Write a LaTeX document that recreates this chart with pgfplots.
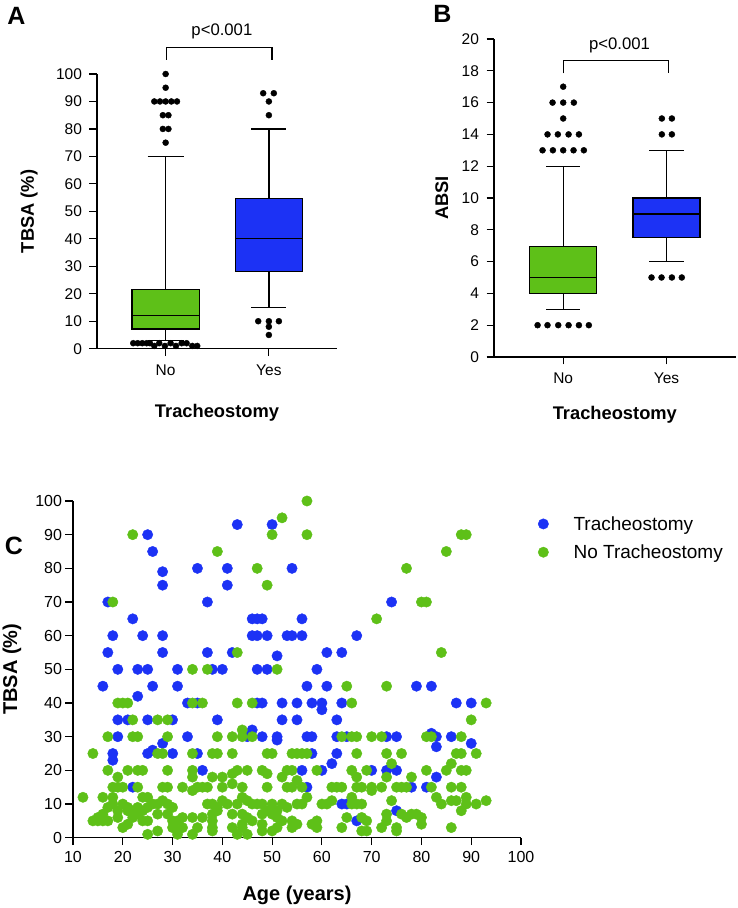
\documentclass[border=0pt]{standalone}
\usepackage{fontspec}
\setmainfont{Liberation Sans}
\usepackage{pgfplots}
\pgfplotsset{compat=1.18}
\definecolor{tgreen}{RGB}{94,192,24}
\definecolor{tblue}{RGB}{28,50,245}
\pgfplotsset{
  myaxis/.style={
    scale only axis,
    axis lines=left,
    axis line style={-, line width=1.3pt},
    tick style={line width=1.2pt, black},
    tick align=outside,
    major tick length=7.5pt,
    /pgf/number format/assume math mode=true,
    clip=false,
  },
  wh/.style={black, line width=1.3pt},
  bx/.style={draw=black, line width=1.3pt},
  outl/.style={only marks, mark=*, mark size=3pt, black},
}
\begin{document}
\begin{tikzpicture}
\useasboundingbox (0,0) rectangle (738pt,908pt);
% ---------------- Panel A
\begin{axis}[myaxis,
  at={(97pt,559.3pt)}, anchor=south west,
  width=240pt, height=274.7pt,
  xmin=0.335, xmax=2.66, ymin=0, ymax=100,
  xtick={1,2}, xticklabels={No,Yes},
  ytick={0,10,...,100},
  tick label style={font=\fontsize{15.5}{18}\selectfont},
  xticklabel style={yshift=-5pt},
  yticklabel style={xshift=-4pt},
  xlabel={Tracheostomy}, ylabel={TBSA (\%)},
  label style={font=\fontsize{18.3}{21}\selectfont\bfseries},
  xlabel style={at={(axis description cs:0.5,-0.234)}, anchor=center},
  ylabel style={at={(axis description cs:-0.283,0.5)}, anchor=center},
]
% whiskers
\addplot[wh] coordinates {(1,21.6) (1,70)};
\addplot[wh] coordinates {(0.825,70) (1.175,70)};
\addplot[wh] coordinates {(1,7.2) (1,2.9)};
\addplot[wh] coordinates {(0.825,2.9) (1.175,2.9)};
\addplot[wh] coordinates {(2,54.6) (2,80)};
\addplot[wh] coordinates {(1.83,80) (2.17,80)};
\addplot[wh] coordinates {(2,28) (2,15)};
\addplot[wh] coordinates {(1.83,15) (2.17,15)};
% boxes
\addplot[bx, fill=tgreen] coordinates {(0.675,7.2) (1.325,7.2) (1.325,21.6) (0.675,21.6) (0.675,7.2)} -- cycle;
\addplot[wh] coordinates {(0.675,12) (1.325,12)};
\addplot[bx, fill=tblue] coordinates {(1.675,28) (2.325,28) (2.325,54.6) (1.675,54.6) (1.675,28)} -- cycle;
\addplot[wh] coordinates {(1.675,40) (2.325,40)};
% outliers
\addplot[outl] coordinates {(1,100) (1,95) (0.89,90) (0.945,90) (1,90) (1.055,90) (1.11,90) (0.973,85) (1.027,85) (0.973,80) (1.027,80) (1,75)
 (0.686,2) (0.729,2) (0.774,2) (0.816,2) (0.848,2) (0.938,2) (1.048,2) (1.155,2) (1.203,2)
 (0.890,1) (0.993,1) (1.100,1) (1.258,1) (1.306,1)};
\addplot[outl] coordinates {(1.945,93) (2.048,93) (2,90) (2,85) (1.897,10) (2,10) (2.097,10) (2,8) (2,5)};
\draw[line width=1.2pt] (axis cs:1.005,105.1) -- (axis cs:1.005,109.6) -- (axis cs:2.03,109.6) -- (axis cs:2.03,105.1);
\node[font=\fontsize{16.7}{19}\selectfont] at (axis cs:1.545,115.4) {p<0.001};
\end{axis}
% ---------------- Panel B
\begin{axis}[myaxis,
  at={(494pt,551pt)}, anchor=south west,
  width=241.7pt, height=318pt,
  xmin=0.33, xmax=2.67, ymin=0, ymax=20,
  xtick={1,2}, xticklabels={No,Yes},
  ytick={0,2,...,20},
  tick label style={font=\fontsize{15.5}{18}\selectfont},
  xticklabel style={yshift=-5pt},
  yticklabel style={xshift=-4pt},
  xlabel={Tracheostomy}, ylabel={ABSI},
  label style={font=\fontsize{18.3}{21}\selectfont\bfseries},
  xlabel style={at={(axis description cs:0.5,-0.182)}, anchor=center},
  ylabel style={at={(axis description cs:-0.216,0.5)}, anchor=center},
]
\addplot[wh] coordinates {(1,6.95) (1,12)};
\addplot[wh] coordinates {(0.835,12) (1.165,12)};
\addplot[wh] coordinates {(1,4) (1,3)};
\addplot[wh] coordinates {(0.835,3) (1.165,3)};
\addplot[wh] coordinates {(2,10) (2,13)};
\addplot[wh] coordinates {(1.835,13) (2.165,13)};
\addplot[wh] coordinates {(2,7.5) (2,6)};
\addplot[wh] coordinates {(1.835,6) (2.165,6)};
\addplot[bx, fill=tgreen] coordinates {(0.675,4) (1.325,4) (1.325,6.95) (0.675,6.95) (0.675,4)} -- cycle;
\addplot[wh] coordinates {(0.675,5) (1.325,5)};
\addplot[bx, fill=tblue] coordinates {(1.675,7.5) (2.325,7.5) (2.325,10) (1.675,10) (1.675,7.5)} -- cycle;
\addplot[wh] coordinates {(1.675,9) (2.325,9)};
\addplot[outl] coordinates {(1,17) (0.897,16) (1,16) (1.103,16) (1,15) (0.848,14) (0.948,14) (1.052,14) (1.152,14) (0.8,13) (0.9,13) (1,13) (1.1,13) (1.2,13) (0.752,2) (0.848,2) (0.952,2) (1.052,2) (1.152,2) (1.248,2)};
\addplot[outl] coordinates {(1.955,15) (2.052,15) (1.955,14) (2.052,14) (1.855,5) (1.952,5) (2.052,5) (2.148,5)};
\draw[line width=1.2pt] (axis cs:1,17.84) -- (axis cs:1,18.64) -- (axis cs:2.02,18.64) -- (axis cs:2.02,17.84);
\node[font=\fontsize{16.7}{19}\selectfont] at (axis cs:1.545,19.6) {p<0.001};
\end{axis}
% ---------------- Panel C
\begin{axis}[myaxis,
  at={(73pt,70.3pt)}, anchor=south west,
  width=448pt, height=336.7pt,
  xmin=10, xmax=100, ymin=0, ymax=100,
  xtick={10,20,...,100}, ytick={0,10,...,100},
  tick label style={font=\fontsize{16}{19}\selectfont},
  xticklabel style={yshift=-3pt},
  xlabel={Age (years)}, ylabel={TBSA (\%)},
  label style={font=\fontsize{20}{24}\selectfont\bfseries},
  xlabel style={at={(axis description cs:0.5,-0.17)}, anchor=center},
  ylabel style={at={(axis description cs:-0.136,0.5)}, anchor=center},
  legend style={draw=none, fill=none, at={(axis description cs:1.02,0.967)}, anchor=north west,
    font=\fontsize{19}{22}\selectfont, row sep=9pt},
  legend cell align=left,
  legend image code/.code={\draw[#1] plot coordinates {(10pt,0pt)}; \path (0pt,0pt) (38pt,0pt);},
]
\addplot[only marks, mark=*, mark size=5.2pt, color=tblue] coordinates {
(25,90) (26,85) (28,79) (28,75) (17,70) (22,65) (18,60) (24,60) (28,60) (17,55) (28,55) (19,50) (23,50) (25,50) (16,45) (26,45) (23,42) (19,35) (21,35) (25,35) (30,35) (19,30) (28,28) (25,25) (26,26) (18,25) (18,23) (30,25) (22,15) (43,93) (35,80) (41,80) (41,75) (37,70) (31,50) (31,45) (37,55) (38,50) (40,50) (42,55) (33,40) (35,40) (39,35) (33,30) (35,25) (36,20) (50,93) (54,80) (46,65) (47,65) (48,65) (56,65) (46,60) (47,60) (49,60) (53,60) (54,60) (56,60) (51,54) (47,50) (49,50) (57,45) (59,50) (61,55) (64,55) (61,45) (67,60) (47,40) (48,40) (52,40) (55,40) (58,40) (60,40) (60,38) (64,40) (52,35) (55,35) (63,35) (46,32) (45,30) (48,30) (51,30) (51,29) (57,30) (58,30) (63,30) (65,30) (58,25) (63,25) (62,22) (56,20) (60,20) (57,15) (64,10) (65,10) (67,5) (74,70) (79,45) (82,45) (87,40) (90,40) (73,30) (75,30) (82,31) (83,30) (83,27) (86,30) (90,28) (70,20) (73,20) (75,20) (78,15) (81,15) (75,8) (83,18)
};
\addlegendentry{Tracheostomy}
\addplot[only marks, mark=*, mark size=5.2pt, color=tgreen] coordinates {
(22,90) (39,85) (47,80) (49,75) (18,70) (50,90) (52,95) (57,100) (57,90) (43,55) (34,50) (37,50) (51,50) (65,45) (19,40) (20,40) (21,40) (34,40) (36,40) (43,40) (46,40) (66,40) (22,35) (27,35) (29,35) (17,30) (22,30) (23,30) (29,30) (39,30) (42,30) (44,32) (44,30) (46,30) (64,30) (66,30) (67,30) (14,25) (27,25) (28,25) (34,25) (38,25) (39,25) (42,25) (49,25) (50,25) (54,25) (55,25) (56,25) (57,25) (67,25) (17,20) (21,20) (23,20) (24,20) (29,20) (34,20) (42,19) (43,20) (45,20) (48,20) (49,19) (53,20) (54,20) (59,20) (66,20) (19,18) (34,18) (38,18) (40,18) (52,18) (55,17) (67,18) (42,16) (18,15) (19,15) (20,15) (23,15) (28,15) (29,15) (32,15) (35,15) (36,15) (37,15) (40,15) (44,15) (49,15) (53,15) (54,15) (56,15) (34,14) (62,15) (63,15) (64,15) (67,15) (68,15) (57,12) (12,12) (16,12) (18,12) (17,9)
(88,90) (89,90) (85,85) (77,80) (80,70) (81,70) (71,65) (84,55) (73,45) (93,40) (90,35) (70,30) (72,30) (81,30) (82,30) (88,30) (73,25) (76,25) (87,25) (88,25) (91,25) (74,22) (69,20) (81,20) (85,20) (88,20) (89,20) (73,18) (78,18) (86,22) (70,15) (70,14) (72,15) (75,15) (76,15) (77,15) (82,15) (86,15) (88,15) (83,12) (89,12) (86,11) (87,11) (93,11) (74,11) (84,10) (89,10) (91,10) (73,7) (73,5) (76,7) (77,6) (78,7) (79,7) (80,6) (80,4) (88,8) (72,3) (75,3) (75,2) (86,3)
(14,5) (15,5) (16,5) (17,5) (15,6) (16,7) (18,10) (19,6) (19,8) (20,10) (21,9) (20,3) (21,4) (21,8) (22,6) (22,8) (23,7) (23,9) (24,8) (24,12) (25,12) (24,5) (25,5) (25,9) (25,1) (26,10) (27,10) (28,11) (29,10) (30,9) (27,7) (27,2) (29,7) (30,5) (30,3) (31,5) (31,2) (31,1) (32,6) (32,3) (34,6) (34,1) (35,3) (36,6) (37,10) (38,10) (38,7) (38,5) (38,3) (38,2) (39,9) (39,8) (40,11) (41,10) (42,7) (42,3) (43,10) (43,1) (44,12) (44,7) (44,4) (44,3) (45,11) (45,6) (45,1) (46,10) (46,5) (47,10) (48,10) (48,7) (48,4) (48,2) (49,8) (50,7) (50,10) (50,2) (51,8) (51,6) (51,3) (52,5) (52,10) (53,9) (54,5) (54,3) (55,4) (55,10) (56,10) (58,4) (59,5) (59,3) (60,10) (61,10) (62,11) (64,3) (65,6) (66,12) (66,10) (67,10) (68,10) (68,6) (69,5) (68,2) (69,2)
};
\addlegendentry{No Tracheostomy}
\end{axis}
% panel letters
\node[font=\fontsize{25}{28}\selectfont\bfseries, anchor=center] at (16.5pt,892pt) {A};
\node[font=\fontsize{25}{28}\selectfont\bfseries, anchor=center] at (442.5pt,894pt) {B};
\node[font=\fontsize{25}{28}\selectfont\bfseries, anchor=center] at (14pt,362pt) {C};
\end{tikzpicture}
\end{document}
